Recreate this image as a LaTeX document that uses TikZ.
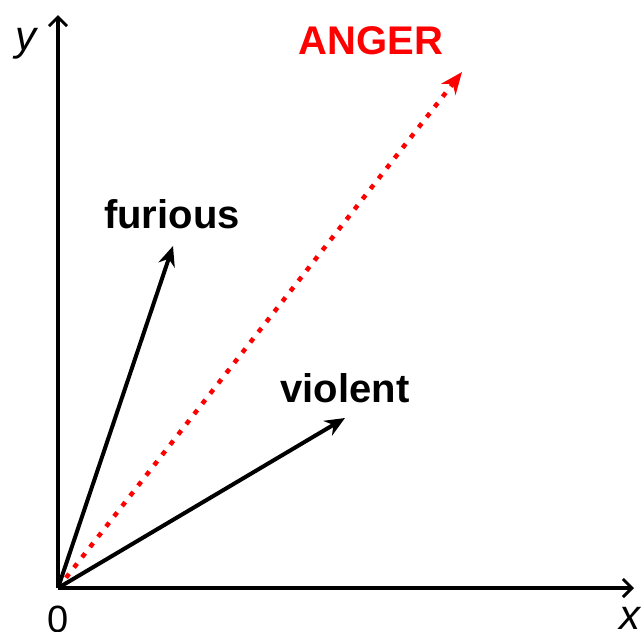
\documentclass[tikz,border=0pt]{standalone}
\usepackage{fontspec}
\setmainfont{Liberation Sans}
\usetikzlibrary{arrows.meta}
\begin{document}
\begin{tikzpicture}[x=1pt,y=-1pt,
  axis/.style={line width=3.8pt,-{Straight Barb[length=9pt,width=18pt,line width=3pt]}},
  vec/.style={line width=4pt,-{Stealth[length=20pt,width=17pt]}},
  anger/.style={line width=4.5pt,red,dash pattern=on 5pt off 8pt,-{Stealth[length=22pt,width=18pt]}},
  lbl/.style={font=\fontsize{40}{42}\selectfont\bfseries,inner sep=0pt}]
\useasboundingbox (0,0) rectangle (643,632);
\coordinate (o) at (58,588);
\coordinate (ytip) at (58,15);
\coordinate (xtip) at (634,588);
\coordinate (ftip) at (173,246);
\coordinate (vtip) at (345,418);
\coordinate (atip) at (462,72);
\draw[anger] (o) -- (atip);
\draw[vec] (o) -- (ftip);
\draw[vec] (o) -- (vtip);
\draw[axis] (o) -- (ytip);
\draw[axis] (o) -- (xtip);
\node[font=\fontsize{42}{44}\selectfont\itshape,inner sep=0pt] (ylab) at (26,44) {y};
\node[font=\fontsize{42}{44}\selectfont\itshape,inner sep=0pt] (xlab) at (630,618) {x};
\node[font=\fontsize{38}{40}\selectfont,inner sep=0pt] (zero) at (58,619) {0};
\node[lbl] (fur) at (172,214) {furious};
\node[lbl] (vio) at (345,388) {violent};
\node[lbl,red] (ang) at (371,41) {ANGER};
\end{tikzpicture}
\end{document}
